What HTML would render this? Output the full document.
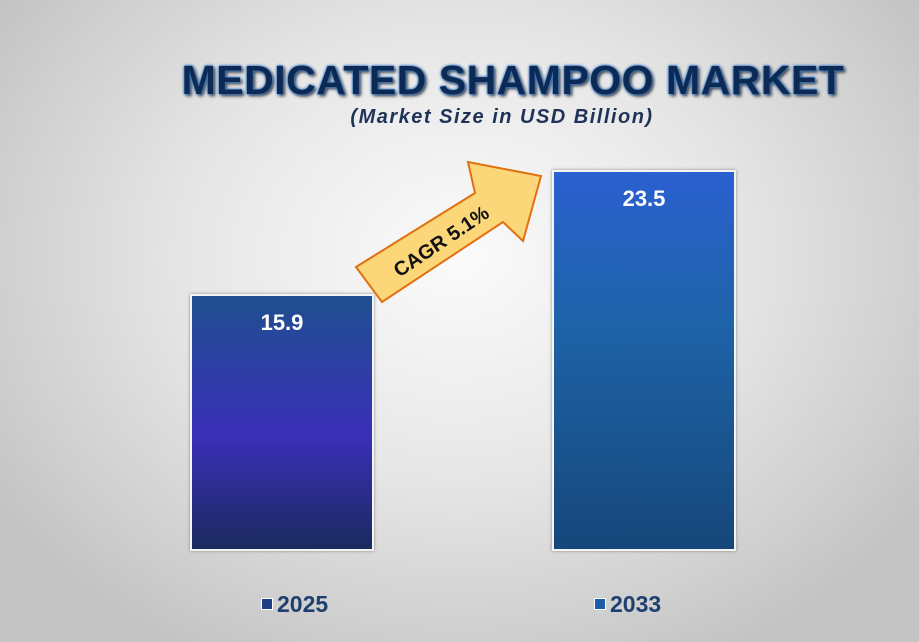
<!DOCTYPE html>
<html><head><style>
body{margin:0;width:919px;height:642px;overflow:hidden;font-family:"Liberation Sans",sans-serif;}
#bg{position:absolute;left:0;top:0;width:919px;height:642px;background:radial-gradient(ellipse 60% 70% at 50% 40%,#fbfbfb 0%,#e6e6e6 50%,#c4c4c4 100%);}
.bar{position:absolute;border:2px solid #f4f4f4;box-shadow:0 0 3px #888;}
.v{position:absolute;width:100%;text-align:center;color:#fff;font-weight:bold;font-size:22px;top:14px;}
.leg{position:absolute;top:591px;font-weight:bold;font-size:23px;color:#1f3f6e;}
.sq{display:inline-block;width:10px;height:10px;border:1px solid #fff;margin-right:4px;vertical-align:2px;}
</style></head><body>
<div id="bg"></div>
<div style="position:absolute;left:168px;top:57px;width:690px;text-align:center;font-weight:bold;font-size:41px;color:#0d2a55;letter-spacing:0.5px;text-shadow:0 0 3px #3a7fd0,0 0 2px #3a7fd0,2px 2px 3px #333;">MEDICATED SHAMPOO MARKET</div>
<div style="position:absolute;left:168px;top:106px;width:668px;text-align:center;font-weight:bold;font-style:italic;font-size:20px;color:#1f3358;letter-spacing:1.5px;">(Market Size in USD Billion)</div>
<div class="bar" style="left:190px;top:294px;width:180px;height:253px;background:linear-gradient(#1f4f90,#3a2fb8 55%,#1b2a5e);"><div class="v">15.9</div></div>
<div class="bar" style="left:552px;top:170px;width:180px;height:377px;background:linear-gradient(#2a60d0,#1e63a8 40%,#16477a);"><div class="v">23.5</div></div>
<svg style="position:absolute;left:0;top:0" width="919" height="642">
<polygon points="356,267 475,193 468,162 541,176 523,241 503,222 382,302" fill="#fbd77a" stroke="#e07010" stroke-width="2"/>
<text x="445" y="247" transform="rotate(-34 445 247)" text-anchor="middle" font-family="Liberation Sans" font-weight="bold" font-size="20" fill="#111">CAGR 5.1%</text>
</svg>
<div class="leg" style="left:261px;"><span class="sq" style="background:#1f3e8a"></span>2025</div>
<div class="leg" style="left:594px;"><span class="sq" style="background:#1d5ea8"></span>2033</div>
</body></html>
